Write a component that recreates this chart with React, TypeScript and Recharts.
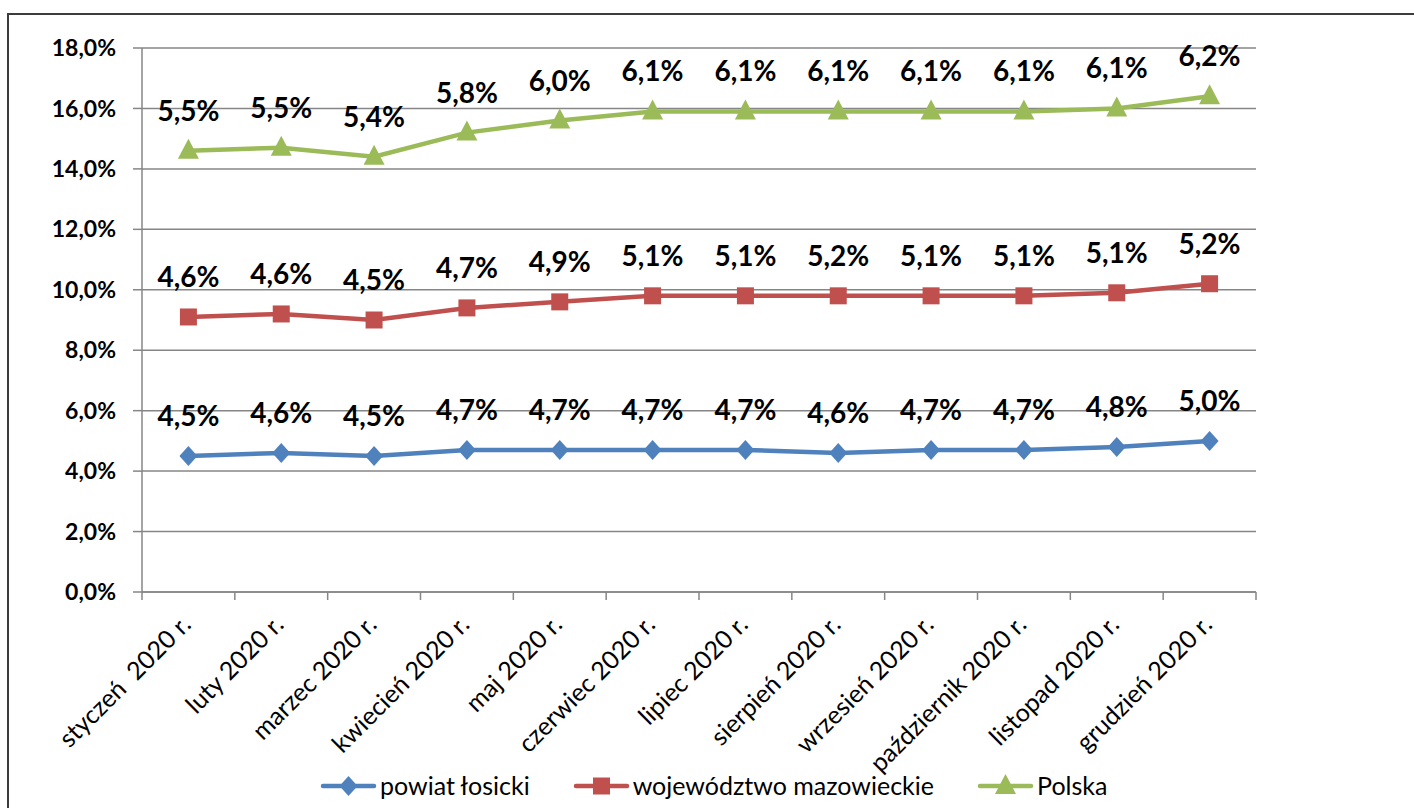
import { CartesianGrid, LabelList, Legend, Line, LineChart, XAxis, YAxis } from "recharts"

const months = [
  "styczeń  2020 r.",
  "luty 2020 r.",
  "marzec 2020 r.",
  "kwiecień 2020 r.",
  "maj 2020 r.",
  "czerwiec 2020 r.",
  "lipiec 2020 r.",
  "sierpień 2020 r.",
  "wrzesień 2020 r.",
  "październik 2020 r.",
  "listopad 2020 r.",
  "grudzień 2020 r.",
]

// stopa bezrobocia, % (wykres skumulowany jak w Excelu)
const powiat = [4.5, 4.6, 4.5, 4.7, 4.7, 4.7, 4.7, 4.6, 4.7, 4.7, 4.8, 5.0]
const wojewodztwo = [4.6, 4.6, 4.5, 4.7, 4.9, 5.1, 5.1, 5.2, 5.1, 5.1, 5.1, 5.2]
const polska = [5.5, 5.5, 5.4, 5.8, 6.0, 6.1, 6.1, 6.1, 6.1, 6.1, 6.1, 6.2]

const yTicks = [0, 2, 4, 6, 8, 10, 12, 14, 16, 18]

const series = [
  { key: "powiat łosicki", color: "#4F81BD", marker: "diamond" },
  { key: "województwo mazowieckie", color: "#C0504D", marker: "square" },
  { key: "Polska", color: "#9BBB59", marker: "triangle" },
]

const data = months.map((m, i) => ({
  pos: i + 0.5,
  month: m,
  powiat: powiat[i],
  woj: wojewodztwo[i],
  polska: polska[i],
  sPowiat: powiat[i],
  sWoj: +(powiat[i] + wojewodztwo[i]).toFixed(1),
  sPolska: +(powiat[i] + wojewodztwo[i] + polska[i]).toFixed(1),
}))

const xTicks = Array.from({ length: months.length * 2 + 1 }, (_, i) => i / 2)

const GRID = "#868686"
const FONT = "Lato, 'Open Sans', sans-serif"

const pct = (v: number) => v.toFixed(1).replace(".", ",") + "%"

function Marker({ type, cx, cy, color }: { type: string; cx: number; cy: number; color: string }) {
  if (type === "diamond") {
    return <path d={`M${cx},${cy - 10}L${cx + 9},${cy}L${cx},${cy + 10}L${cx - 9},${cy}Z`} fill={color} />
  }
  if (type === "square") {
    return <rect x={cx - 8.5} y={cy - 8.5} width={17} height={17} fill={color} />
  }
  return <path d={`M${cx},${cy - 12}L${cx + 10.5},${cy + 8}L${cx - 10.5},${cy + 8}Z`} fill={color} />
}

const makeDot = (type: string, color: string) => (p: any) => {
  if (p.cx == null || p.cy == null) return <g key={p.index} />
  return <Marker key={p.index} type={type} cx={p.cx} cy={p.cy} color={color} />
}

const renderLabel = (props: any) => {
  const vb = props.viewBox || {}
  const x = props.x ?? vb.x
  const y = props.y ?? vb.y
  if (x == null || y == null) return null
  return (
    <text x={x} y={y - 30} textAnchor="middle" fill="#000" fontSize={28} fontWeight={700} fontFamily={FONT}>
      {pct(Number(props.value))}
    </text>
  )
}

function XTick(props: any) {
  const { x, y, payload } = props
  const v = payload.value
  if (Number.isInteger(v)) {
    return <line x1={x} y1={y} x2={x} y2={y + 8} stroke={GRID} strokeWidth={1.5} />
  }
  const tx = x + 4
  const ty = y + 34
  return (
    <text
      x={tx}
      y={ty}
      textAnchor="end"
      fill="#000"
      fontSize={25}
      fontFamily={FONT}
      style={{ whiteSpace: "pre" }}
      transform={`rotate(-45, ${tx}, ${ty})`}
    >
      {months[Math.floor(v)]}
    </text>
  )
}

function LegendBox() {
  return (
    <div style={{ display: "flex", alignItems: "center", fontFamily: FONT, fontSize: 25, color: "#000", whiteSpace: "nowrap" }}>
      {series.map((s, i) => (
        <div key={s.key} style={{ display: "flex", alignItems: "center", marginRight: i < series.length - 1 ? 43 : 0 }}>
          <svg width={57} height={26} style={{ marginRight: 3 }}>
            <line x1={3} y1={14} x2={54} y2={14} stroke={s.color} strokeWidth={4.5} strokeLinecap="round" />
            <Marker type={s.marker} cx={28.5} cy={14} color={s.color} />
          </svg>
          <span>{s.key}</span>
        </div>
      ))}
    </div>
  )
}

export default function App() {
  return (
    <div style={{ position: "fixed", left: 0, top: 0, width: 1414, height: 808, overflow: "hidden", background: "#fff" }}>
      <div
        style={{
          position: "absolute",
          left: 7,
          top: 13,
          width: 1500,
          height: 900,
          border: "2px solid #3c3c3c",
        }}
      />
      <div style={{ position: "absolute", left: 0, top: 0 }}>
        <LineChart
          width={1414}
          height={808}
          data={data}
          margin={{ top: 48, right: 158, bottom: 66, left: 42 }}
          style={{ fontFamily: FONT }}
        >
          <CartesianGrid vertical={false} stroke={GRID} strokeWidth={1.5} />
          <XAxis
            dataKey="pos"
            type="number"
            domain={[0, months.length]}
            ticks={xTicks}
            interval={0}
            tickLine={false}
            tickSize={0}
            tickMargin={0}
            axisLine={{ stroke: GRID, strokeWidth: 1.5 }}
            height={150}
            tick={<XTick />}
          />
          <YAxis
            domain={[0, 18]}
            ticks={yTicks}
            interval={0}
            width={100}
            tickFormatter={pct}
            tickSize={9}
            tickMargin={17}
            axisLine={{ stroke: GRID, strokeWidth: 1.5 }}
            tickLine={{ stroke: GRID, strokeWidth: 1.5 }}
            tick={{ fill: "#000", fontSize: 23, fontWeight: 700, fontFamily: FONT }}
          />
          <Legend
            layout="horizontal"
            verticalAlign="middle"
            align="center"
            content={<LegendBox />}
            wrapperStyle={{ left: 320, top: 770, width: "auto" }}
          />
          <Line
            dataKey="sPowiat"
            name="powiat łosicki"
            stroke="#4F81BD"
            strokeWidth={4.5}
            dot={makeDot("diamond", "#4F81BD")}
            activeDot={false}
            isAnimationActive={false}
          >
            <LabelList dataKey="powiat" content={renderLabel} />
          </Line>
          <Line
            dataKey="sWoj"
            name="województwo mazowieckie"
            stroke="#C0504D"
            strokeWidth={4.5}
            dot={makeDot("square", "#C0504D")}
            activeDot={false}
            isAnimationActive={false}
          >
            <LabelList dataKey="woj" content={renderLabel} />
          </Line>
          <Line
            dataKey="sPolska"
            name="Polska"
            stroke="#9BBB59"
            strokeWidth={4.5}
            dot={makeDot("triangle", "#9BBB59")}
            activeDot={false}
            isAnimationActive={false}
          >
            <LabelList dataKey="polska" content={renderLabel} />
          </Line>
        </LineChart>
      </div>
    </div>
  )
}
